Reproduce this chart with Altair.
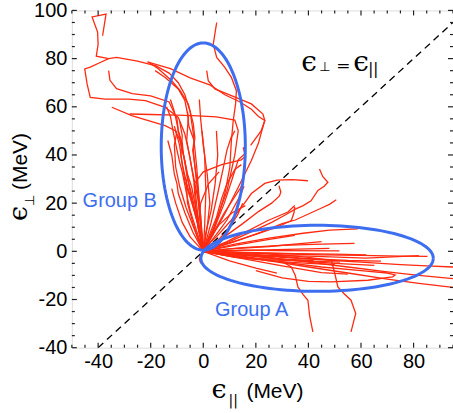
import math
import altair as alt
import pandas as pd

# ---------------- values ----------------
X_DOMAIN = [-50, 95]
Y_DOMAIN = [-40, 100]
x_labels = [-40, -20, 0, 20, 40, 60, 80]
y_labels = [-40, -20, 0, 20, 40, 60, 80, 100]
x_ticks = list(range(-50, 96, 5))
y_ticks = list(range(-40, 101, 5))

# trajectories (eps_par, eps_perp) in MeV
group_b_paths = [
    [(0, 0), (-1.3, 18), (-2.5, 35), (-3.8, 49), (-5, 58), (-7, 65), (-9.5, 70), (-13, 74), (-18, 77), (-25, 79),
     (-33, 80.5), (-36, 80), (-40.7, 81), (-40, 86), (-40.2, 91), (-42.3, 97.3), (-37, 98.5), (-38.3, 89.5)],
    [(0, 0), (-1.9, 12.8), (-3.2, 26.6), (-5.1, 39.1), (-7, 48.7), (-9.5, 55.6), (-14.5, 59.8), (-22, 62.6),
     (-28.4, 63.2), (-37.3, 63.2), (-43, 63.9), (-44.2, 69.5), (-45.1, 75.7), (-43, 76.5), (-39, 78.5), (-36, 80)],
    [(0, 0), (-2, 12), (-4.5, 22), (-6, 31), (-7.5, 40), (-8, 45), (-9.5, 50), (-10, 55), (-13, 62), (-20, 64.5),
     (-27, 65.5), (-33, 67.5), (-35.5, 71), (-36, 75)],
    [(0, 0), (-1.9, 12.8), (-4.4, 26.6), (-6, 32), (-7, 37.7), (-8.8, 46), (-10.7, 50.1), (-14.5, 52.2),
     (-20.9, 54.3), (-27.2, 56.3), (-34.8, 59.8)],
    [(0, 0), (4, 10), (9, 25), (12, 40), (13.3, 50), (12, 54.5), (5, 55.8), (-2, 56.2), (-10, 56.5), (-20, 56.8),
     (-28, 57)],
    [(0, 0), (-1.3, 14.2), (-2.5, 28), (-3.8, 41.8), (-3.2, 47), (-3.8, 52.9), (-5.7, 61.2), (-8.8, 66.7),
     (-12, 70.8), (-17, 75.7), (-20.9, 78.6)],
    [(0, 0), (-1.9, 21.1), (-4.4, 34.9), (-6.3, 46), (-5.7, 55.6), (-7, 62.6), (-9.5, 67.4), (-14.5, 72.2),
     (-18.3, 75)],
    [(0.6, 1.8), (4.4, 10.1), (8.2, 23.9), (10.1, 34.9), (10.7, 46), (11.4, 54.3), (12.3, 61.2), (12.6, 66.7),
     (10.7, 72.2), (8.2, 76.4), (5.1, 80.5), (3.8, 86), (4.4, 90.2), (5.1, 95)],
    [(0, 0), (3.2, 5.9), (8.2, 15.6), (13.3, 26.6), (18.3, 37.7), (21, 45), (22.1, 49.4), (23.4, 54.3),
     (22.7, 57), (18.3, 61.2), (10.7, 64.6), (4.4, 67.4), (1.9, 70.8), (1.3, 75)],
    [(0, 0), (4, 9), (8, 20), (11, 30), (13.3, 38), (15.8, 40.5), (15.2, 43.2)],
    [(0, 0), (-2, 10), (-3, 20), (-3.5, 28), (0, 33), (7, 36), (14.5, 38), (15.5, 39)],
    [(0, 0), (-3, 10), (-5, 17), (-6, 22), (-8, 33), (-9, 37), (-10, 42), (-11.5, 50), (-12.5, 56), (-14, 60)],
    [(0, 0), (-2, 11), (-4.5, 24), (-6, 30), (-7, 37), (-9, 47), (-9.5, 50), (-10, 53), (-11, 58), (-12.5, 63)],
    [(0, 0), (-1, 15), (-2.5, 30), (-4, 42), (-3.5, 46), (-5.5, 52), (-6, 58)],
    [(0, 0), (1.5, 10), (2.5, 20), (1.5, 32), (0, 44), (-1, 55), (-1.5, 63)],
    [(0, 0), (4, 8), (8, 16), (11, 21), (14, 26), (15, 28)],
    [(0, 0), (5, 7), (9, 13), (12, 19), (14, 23), (15.5, 27)],
    [(0, 0), (3, 12), (5.5, 24), (7.5, 34), (9, 42), (10.5, 47), (12, 50)],
    [(0, 0), (-4, 8), (-7, 16), (-9.5, 24), (-10, 28), (-11, 32), (-12, 40), (-13.5, 46)],
    [(0, 0), (2, 5), (6, 11), (11, 16), (16, 19)],
    [(0, 0), (-2, 10), (-1, 20), (2, 28), (6, 33)],
    [(0, 0), (1, 8), (3, 17), (4.5, 28), (5.5, 40), (5, 50)],
    [(0, 0), (-5, 6), (-8, 12), (-10.5, 20), (-12, 26)],
    [(0, 0), (2, 6), (5, 14), (7, 22), (9, 28), (12, 34), (14.5, 36)],
    [(0, 0), (-1, 6), (-3, 15), (-6, 27), (-8, 36), (-9, 44), (-11, 52)],
    [(0, 0), (0.5, 10), (1, 25), (0.5, 40), (-0.5, 50)],
    [(0, 0), (-2, 5), (-4, 12), (-6, 20), (-6.5, 30)],
    [(0, 0), (6, 5), (10, 10), (13, 15), (15, 20)],
    [(-21.3, 78.6), (-12.5, 75.8), (-5, 72), (2.7, 69), (8.2, 65), (14, 62), (18.3, 59), (21, 56), (23.4, 54.3),
     (22, 50), (18, 44)],
    [(0, 0), (-3, 8), (-6.5, 18), (-9, 27), (-10.5, 35), (-11, 44), (-10, 50)],
    [(0, 0), (-1.5, 9), (-4, 19), (-7, 29), (-8.5, 40), (-8, 48), (-9, 54)],
]

middle_paths = [
    [(0, 1), (5, 6), (10.7, 13), (15, 19), (18.3, 24), (23.4, 28.2), (28, 29.6), (34, 29.8), (39.8, 29.3)],
    [(0, 0), (10, 4), (18, 8), (26, 12), (31, 15), (35, 17.5), (38, 19), (41, 21), (43.6, 25.3), (46, 27),
     (47.4, 28.7), (45.5, 31), (44.2, 34.2)],
    [(0, 0), (12, 4), (22, 8), (30, 11.5), (35, 13), (40, 15.5), (45, 18), (48, 19.5), (50.6, 21.4)],
    [(0, 0), (8, 6), (15, 11.5), (21, 16.5), (26, 20), (29, 23), (29.5, 24.6), (28.8, 27.3)],
    [(0, 0), (9, 4), (17, 8.5), (24.6, 12.8), (32.2, 16.3), (34.8, 19)],
    [(0, 0), (10, 3.5), (20, 7), (28, 10), (33.5, 12.8), (34.5, 16), (34.8, 18.4)],
    [(0, 0), (12, 3), (25, 5.5), (38, 7.5), (48, 8.8), (58.8, 9.3)],
    [(0, 0), (12, 2.5), (24, 4.8), (34.8, 6.6)],
    [(0, 0), (15, 1.5), (30, 2.5), (45, 3), (57.5, 3.3)],
    [(0, 0), (15, 0.5), (30, 0.3), (51.8, 0.2)],
]

group_a_paths = [
    [(0, 0), (15, -0.5), (30, -1), (45, -1.5), (60, -1.7), (75, -2), (85.3, -2.1)],
    [(0, 0), (15, -1), (30, -2.5), (45, -3.5), (60, -4.5), (75, -5.5), (85, -6), (95, -6.5)],
    [(0, 0), (20, -2), (40, -4.5), (55, -6.5), (70, -8.5), (82, -10), (95, -11.3)],
    [(0, 0), (20, -3), (40, -6.5), (55, -9), (70, -11.5), (82, -13.3), (95, -15)],
    [(0, 0), (15, -2), (30, -4.5), (45, -6.5), (60, -8), (70, -9), (73, -9.8), (72, -10.6), (62.6, -12),
     (48.6, -12.7), (40, -12.5), (30, -11), (20, -8)],
    [(0, 0), (20, -1.5), (40, -3), (55, -3.8), (67.6, -4.1)],
    [(0, 0), (18, -2), (35, -3.8), (50, -5), (65.1, -5.8)],
    [(0, 0), (10, -0.5), (20, -1.5), (28, -3), (33.5, -6.5), (35, -10), (36, -14.8), (38, -18), (39.8, -20.3),
     (40.5, -27), (41.7, -33.4)],
    [(0, 0), (15, -0.5), (30, -1.5), (40, -2.5), (48.7, -3.7), (50, -9), (51.2, -14.8), (53.5, -17.5),
     (56.2, -20.3), (58, -25.8), (57, -30), (56.2, -33.4)],
    [(0, 0), (15, -3), (30, -6), (45, -8.8), (55, -9.5)],
    [(0, 0), (10, -2), (25, -4), (40, -5), (50, -5.5)],
    [(0, 0), (20, 0.5), (40, 1), (48, 1.2)],
    [(0, 0), (20, -0.5), (35, -1), (50, -1.2), (62, -1.5)],
    [(0, 0), (10, -4), (20, -7), (28, -9)],
    [(0, 0), (15, -1), (25, -2), (36, -2.5)],
    [(0, 0), (10, 1), (25, 2), (40, 3.5), (45, 4)],
    [(0, 0), (18, -1.5), (40, -2), (62, -2.8), (82, -1.8)],
    [(0, 0), (-1.5, -3), (-1, -5)],
    [(0, 0), (12, -2.5), (24, -3.5), (38, -4), (52, -4.5)],
    [(0, 0), (8, -1.5), (18, -3), (30, -3.2), (42, -3.8)],
]

# ellipses: (centre x, centre y, semi-axis x, semi-axis y)
ellipse_b = (0.0, 43.5, 16.0, 43.0)
ellipse_a = (43.3, -2.9, 44.2, 13.7)

diagonal_x = [-40, 95]
diagonal_y = [-40, 95]

# ---------------- styling ----------------
W, H = 382, 338
RED = "#ff2a10"
BLUE = "#3e6ef0"
FRAME = "#222222"
SANS = "Liberation Sans"
SERIF = "DejaVu Serif"

xs = alt.Scale(domain=X_DOMAIN, nice=False, zero=False)
ys = alt.Scale(domain=Y_DOMAIN, nice=False, zero=False)
x_axis = alt.Axis(values=x_labels, title=None, ticks=False, domain=False, grid=False,
                  labelFontSize=20, labelFont=SANS, labelColor="black", labelPadding=4,
                  labelExpr="'' + datum.value")
y_axis = alt.Axis(values=y_labels, title=None, ticks=False, domain=False, grid=False,
                  labelFontSize=20, labelFont=SANS, labelColor="black", labelPadding=5,
                  labelExpr="'' + datum.value")


def X(field="x"):
    return alt.X(f"{field}:Q", scale=xs, axis=x_axis, title=None)


def Y(field="y"):
    return alt.Y(f"{field}:Q", scale=ys, axis=y_axis, title=None)


def paths_df(paths, prefix):
    rows = []
    for i, p in enumerate(paths):
        for k, (x, y) in enumerate(p):
            rows.append({"id": f"{prefix}{i}", "k": k, "x": x, "y": y})
    return pd.DataFrame(rows)


traj = pd.concat([paths_df(group_b_paths, "b"), paths_df(middle_paths, "m"),
                  paths_df(group_a_paths, "a")], ignore_index=True)


def ellipse_df(params, name):
    cx, cy, rx, ry = params
    rows = []
    for k, t in enumerate(range(0, 361, 3)):
        r = math.radians(t)
        rows.append({"id": name, "k": k, "x": cx + rx * math.cos(r), "y": cy + ry * math.sin(r)})
    return pd.DataFrame(rows)


ell = pd.concat([ellipse_df(ellipse_b, "B"), ellipse_df(ellipse_a, "A")], ignore_index=True)
diag = pd.DataFrame({"x": diagonal_x, "y": diagonal_y})

major_x = [v for v in x_ticks if v % 20 == 0]
minor_x = [v for v in x_ticks if v % 20 != 0]
major_y = [v for v in y_ticks if v % 20 == 0]
minor_y = [v for v in y_ticks if v % 20 != 0]


def xtick_layers(vals, length):
    d = pd.DataFrame({"x": vals})
    bottom = alt.Chart(d).mark_rule(color=FRAME, strokeWidth=1.2).encode(
        x=X(), y=alt.value(H), y2=alt.value(H - length))
    top = alt.Chart(d).mark_rule(color=FRAME, strokeWidth=1.2).encode(
        x=X(), y=alt.value(0), y2=alt.value(length))
    return [bottom, top]


def ytick_layers(vals, length):
    d = pd.DataFrame({"y": vals})
    left = alt.Chart(d).mark_rule(color=FRAME, strokeWidth=1.2).encode(
        y=Y(), x=alt.value(0), x2=alt.value(length))
    right = alt.Chart(d).mark_rule(color=FRAME, strokeWidth=1.2).encode(
        y=Y(), x=alt.value(W), x2=alt.value(W - length))
    return [left, right]


ticks = (xtick_layers(major_x, 5) + xtick_layers(minor_x, 3) +
         ytick_layers(major_y, 5) + ytick_layers(minor_y, 3))

lines = alt.Chart(traj).mark_line(color=RED, strokeWidth=1.3, clip=True).encode(
    x=X(), y=Y(), detail="id:N", order="k:Q")

dashed = alt.Chart(diag).mark_line(color="black", strokeWidth=1.3, strokeDash=[7, 5], clip=True).encode(
    x=X(), y=Y())

ellipses = alt.Chart(ell).mark_line(color=BLUE, strokeWidth=3, clip=True).encode(
    x=X(), y=Y(), detail="id:N", order="k:Q")

group_df = pd.DataFrame({"x": [-45.9, 4.5], "y": [21.0, -24.4], "label": ["Group B", "Group A"]})
group_text = alt.Chart(group_df).mark_text(color=BLUE, fontSize=20, font=SANS, align="left",
                                           baseline="middle").encode(x=X(), y=Y(), text="label:N")


def txt(s, x, y, size, font, angle=None):
    kw = dict(text=s, fontSize=size, font=font, color="black", align="left", baseline="alphabetic")
    if angle is not None:
        kw["angle"] = angle
    return alt.Chart(pd.DataFrame({"a": [0]})).mark_text(**kw).encode(x=alt.value(x), y=alt.value(y))


texts = [
    # x-axis title
    txt("ϵ", 140, 388, 27, SERIF),
    txt("||", 157, 395, 14, "DejaVu Sans"),
    txt("(MeV)", 175, 388, 21, SANS),
    # y-axis title (rotated)
    txt("ϵ", -45, 211, 27, SERIF, 270),
    txt("⊥", -38, 196, 13, "DejaVu Sans", 270),
    txt("(MeV)", -45, 180, 21, SANS, 270),
    # annotation
    txt("ϵ", 230, 61, 28, SERIF),
    txt("⊥", 248, 61, 13, "DejaVu Sans"),
    txt("=", 265, 61, 17, SERIF),
    txt("ϵ", 282, 61, 28, SERIF),
    txt("||", 297, 64, 15, "DejaVu Sans"),
]

chart = alt.layer(lines, dashed, ellipses, *ticks, group_text, *texts).properties(
    width=W, height=H,
    autosize=alt.AutoSizeParams(type="none"),
    padding={"left": 72, "top": 10, "right": 0, "bottom": 65},
).configure_view(stroke=FRAME, strokeWidth=2).configure(background="white")

chart.save("out.html", embed_options={"renderer": "svg", "actions": False})
